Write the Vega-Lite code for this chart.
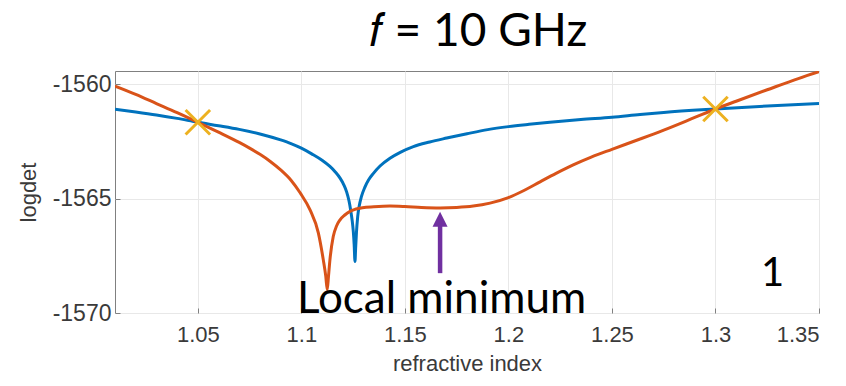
{
  "$schema": "https://vega.github.io/schema/vega-lite/v6.json",
  "width": 704,
  "height": 242,
  "autosize": {"type": "none"},
  "padding": {"left": 115, "top": 71, "right": 27, "bottom": 73},
  "background": "white",
  "config": {
    "view": {"stroke": "#808080", "strokeWidth": 1},
    "font": "Liberation Sans"
  },
  "title": {
    "text": "𝑓 = 10 GHz",
    "font": "Lato",
    "fontSize": 46,
    "fontWeight": "normal",
    "color": "#000000",
    "anchor": "middle",
    "offset": 15,
    "dx": 11
  },
  "datasets": {
    "curves": [
      {"n": 1.01, "v": -1561.10, "s": "blue"},
      {"n": 1.02, "v": -1561.22, "s": "blue"},
      {"n": 1.03, "v": -1561.35, "s": "blue"},
      {"n": 1.04, "v": -1561.50, "s": "blue"},
      {"n": 1.05, "v": -1561.67, "s": "blue"},
      {"n": 1.06, "v": -1561.82, "s": "blue"},
      {"n": 1.07, "v": -1561.98, "s": "blue"},
      {"n": 1.08, "v": -1562.18, "s": "blue"},
      {"n": 1.09, "v": -1562.44, "s": "blue"},
      {"n": 1.095, "v": -1562.60, "s": "blue"},
      {"n": 1.10, "v": -1562.80, "s": "blue"},
      {"n": 1.105, "v": -1563.05, "s": "blue"},
      {"n": 1.11, "v": -1563.33, "s": "blue"},
      {"n": 1.1138, "v": -1563.60, "s": "blue"},
      {"n": 1.1165, "v": -1563.85, "s": "blue"},
      {"n": 1.1187, "v": -1564.11, "s": "blue"},
      {"n": 1.1205, "v": -1564.40, "s": "blue"},
      {"n": 1.1219, "v": -1564.72, "s": "blue"},
      {"n": 1.123, "v": -1565.10, "s": "blue"},
      {"n": 1.1238, "v": -1565.50, "s": "blue"},
      {"n": 1.1246, "v": -1566.00, "s": "blue"},
      {"n": 1.1251, "v": -1566.45, "s": "blue"},
      {"n": 1.1255, "v": -1567.00, "s": "blue"},
      {"n": 1.1259, "v": -1567.75, "s": "blue"},
      {"n": 1.1262, "v": -1567.20, "s": "blue"},
      {"n": 1.1266, "v": -1566.50, "s": "blue"},
      {"n": 1.1272, "v": -1565.80, "s": "blue"},
      {"n": 1.128, "v": -1565.30, "s": "blue"},
      {"n": 1.129, "v": -1564.92, "s": "blue"},
      {"n": 1.1307, "v": -1564.50, "s": "blue"},
      {"n": 1.1325, "v": -1564.18, "s": "blue"},
      {"n": 1.1348, "v": -1563.90, "s": "blue"},
      {"n": 1.138, "v": -1563.58, "s": "blue"},
      {"n": 1.1428, "v": -1563.24, "s": "blue"},
      {"n": 1.148, "v": -1562.97, "s": "blue"},
      {"n": 1.1541, "v": -1562.73, "s": "blue"},
      {"n": 1.162, "v": -1562.53, "s": "blue"},
      {"n": 1.1702, "v": -1562.36, "s": "blue"},
      {"n": 1.18, "v": -1562.17, "s": "blue"},
      {"n": 1.19, "v": -1561.99, "s": "blue"},
      {"n": 1.20, "v": -1561.86, "s": "blue"},
      {"n": 1.21, "v": -1561.76, "s": "blue"},
      {"n": 1.22, "v": -1561.67, "s": "blue"},
      {"n": 1.235, "v": -1561.55, "s": "blue"},
      {"n": 1.25, "v": -1561.45, "s": "blue"},
      {"n": 1.2636, "v": -1561.33, "s": "blue"},
      {"n": 1.275, "v": -1561.24, "s": "blue"},
      {"n": 1.30, "v": -1561.09, "s": "blue"},
      {"n": 1.325, "v": -1560.96, "s": "blue"},
      {"n": 1.35, "v": -1560.85, "s": "blue"},
      {"n": 1.01, "v": -1560.09, "s": "orange"},
      {"n": 1.02, "v": -1560.45, "s": "orange"},
      {"n": 1.03, "v": -1560.85, "s": "orange"},
      {"n": 1.04, "v": -1561.25, "s": "orange"},
      {"n": 1.05, "v": -1561.67, "s": "orange"},
      {"n": 1.06, "v": -1562.10, "s": "orange"},
      {"n": 1.07, "v": -1562.55, "s": "orange"},
      {"n": 1.075, "v": -1562.80, "s": "orange"},
      {"n": 1.08, "v": -1563.07, "s": "orange"},
      {"n": 1.085, "v": -1563.38, "s": "orange"},
      {"n": 1.09, "v": -1563.75, "s": "orange"},
      {"n": 1.095, "v": -1564.20, "s": "orange"},
      {"n": 1.0994, "v": -1564.75, "s": "orange"},
      {"n": 1.1042, "v": -1565.50, "s": "orange"},
      {"n": 1.1082, "v": -1566.50, "s": "orange"},
      {"n": 1.1106, "v": -1567.68, "s": "orange"},
      {"n": 1.1118, "v": -1568.40, "s": "orange"},
      {"n": 1.1125, "v": -1568.98, "s": "orange"},
      {"n": 1.1131, "v": -1568.40, "s": "orange"},
      {"n": 1.1138, "v": -1567.68, "s": "orange"},
      {"n": 1.1154, "v": -1566.66, "s": "orange"},
      {"n": 1.117, "v": -1566.20, "s": "orange"},
      {"n": 1.1187, "v": -1565.93, "s": "orange"},
      {"n": 1.121, "v": -1565.72, "s": "orange"},
      {"n": 1.1235, "v": -1565.56, "s": "orange"},
      {"n": 1.126, "v": -1565.47, "s": "orange"},
      {"n": 1.1295, "v": -1565.40, "s": "orange"},
      {"n": 1.135, "v": -1565.36, "s": "orange"},
      {"n": 1.1428, "v": -1565.33, "s": "orange"},
      {"n": 1.15, "v": -1565.35, "s": "orange"},
      {"n": 1.158, "v": -1565.39, "s": "orange"},
      {"n": 1.167, "v": -1565.41, "s": "orange"},
      {"n": 1.175, "v": -1565.39, "s": "orange"},
      {"n": 1.183, "v": -1565.33, "s": "orange"},
      {"n": 1.1911, "v": -1565.20, "s": "orange"},
      {"n": 1.20, "v": -1564.96, "s": "orange"},
      {"n": 1.2075, "v": -1564.65, "s": "orange"},
      {"n": 1.2153, "v": -1564.27, "s": "orange"},
      {"n": 1.223, "v": -1563.90, "s": "orange"},
      {"n": 1.2313, "v": -1563.53, "s": "orange"},
      {"n": 1.24, "v": -1563.19, "s": "orange"},
      {"n": 1.25, "v": -1562.85, "s": "orange"},
      {"n": 1.2636, "v": -1562.40, "s": "orange"},
      {"n": 1.275, "v": -1562.01, "s": "orange"},
      {"n": 1.29, "v": -1561.46, "s": "orange"},
      {"n": 1.30, "v": -1561.09, "s": "orange"},
      {"n": 1.31, "v": -1560.75, "s": "orange"},
      {"n": 1.325, "v": -1560.25, "s": "orange"},
      {"n": 1.34, "v": -1559.76, "s": "orange"},
      {"n": 1.35, "v": -1559.46, "s": "orange"}
    ],
    "crossings": [
      {"n": 1.05, "v": -1561.67},
      {"n": 1.30, "v": -1561.09}
    ],
    "arrow": [
      {"n": 1.167, "v": -1568.26, "v2": -1566.1, "tip": -1565.9}
    ],
    "labels": [
      {"n": 1.1677, "v": -1570.0, "t": "Local minimum", "size": "big"},
      {"n": 1.3276, "v": -1568.84, "t": "1", "size": "small"}
    ]
  },
  "layer": [
    {
      "data": {"name": "curves"},
      "mark": {"type": "line", "strokeWidth": 3, "clip": true, "interpolate": "monotone"},
      "encoding": {
        "x": {
          "field": "n", "type": "quantitative",
          "scale": {"domain": [1.01, 1.35], "nice": false, "zero": false},
          "axis": {
            "orient": "bottom",
            "title": "refractive index",
            "values": [1.05, 1.1, 1.15, 1.2, 1.25, 1.3, 1.35],
            "format": "~g",
            "labelFontSize": 22, "labelColor": "#3a3a3a",
            "labelPadding": 16,
            "tickSize": -5, "tickColor": "#808080",
            "domain": false,
            "grid": true, "gridColor": "#e8e8e8",
            "titleFontSize": 22, "titleFontWeight": "normal", "titleColor": "#3a3a3a",
            "titlePadding": 8
          }
        },
        "y": {
          "field": "v", "type": "quantitative",
          "scale": {"domain": [-1570, -1559.43], "nice": false, "zero": false},
          "axis": {
            "orient": "left",
            "title": "logdet",
            "values": [-1570, -1565, -1560],
            "labelExpr": "'' + datum.value",
            "labelFontSize": 23, "labelColor": "#3a3a3a",
            "labelPadding": 9,
            "tickSize": -5, "tickColor": "#808080",
            "domain": false,
            "grid": true, "gridColor": "#e8e8e8",
            "titleFontSize": 22, "titleFontWeight": "normal", "titleColor": "#3a3a3a",
            "titlePadding": 12
          }
        },
        "color": {
          "field": "s", "type": "nominal",
          "scale": {"domain": ["blue", "orange"], "range": ["#0072BD", "#D95319"]},
          "legend": null
        },
        "order": {"field": "n", "type": "quantitative"}
      }
    },
    {
      "data": {"name": "crossings"},
      "mark": {
        "type": "point",
        "shape": "M-1,-1L1,1M1,-1L-1,1",
        "size": 600,
        "stroke": "#EDB120",
        "strokeWidth": 3,
        "opacity": 1,
        "filled": false
      },
      "encoding": {
        "x": {"field": "n", "type": "quantitative"},
        "y": {"field": "v", "type": "quantitative"}
      }
    },
    {
      "data": {"name": "arrow"},
      "mark": {"type": "rule", "color": "#7030A0", "strokeWidth": 4.5},
      "encoding": {
        "x": {"field": "n", "type": "quantitative"},
        "y": {"field": "v", "type": "quantitative"},
        "y2": {"field": "v2"}
      }
    },
    {
      "data": {"name": "arrow"},
      "mark": {
        "type": "point",
        "shape": "M0,-1L-1,1L1,1Z",
        "size": 225,
        "filled": true,
        "color": "#7030A0",
        "opacity": 1
      },
      "encoding": {
        "x": {"field": "n", "type": "quantitative"},
        "y": {"field": "tip", "type": "quantitative"}
      }
    },
    {
      "data": {"name": "labels"},
      "mark": {"type": "text", "font": "Lato", "align": "center", "baseline": "alphabetic", "color": "#000000"},
      "encoding": {
        "x": {"field": "n", "type": "quantitative"},
        "y": {"field": "v", "type": "quantitative"},
        "text": {"field": "t"},
        "size": {
          "field": "size", "type": "nominal",
          "scale": {"domain": ["big", "small"], "range": [44, 40]},
          "legend": null
        }
      }
    }
  ]
}
